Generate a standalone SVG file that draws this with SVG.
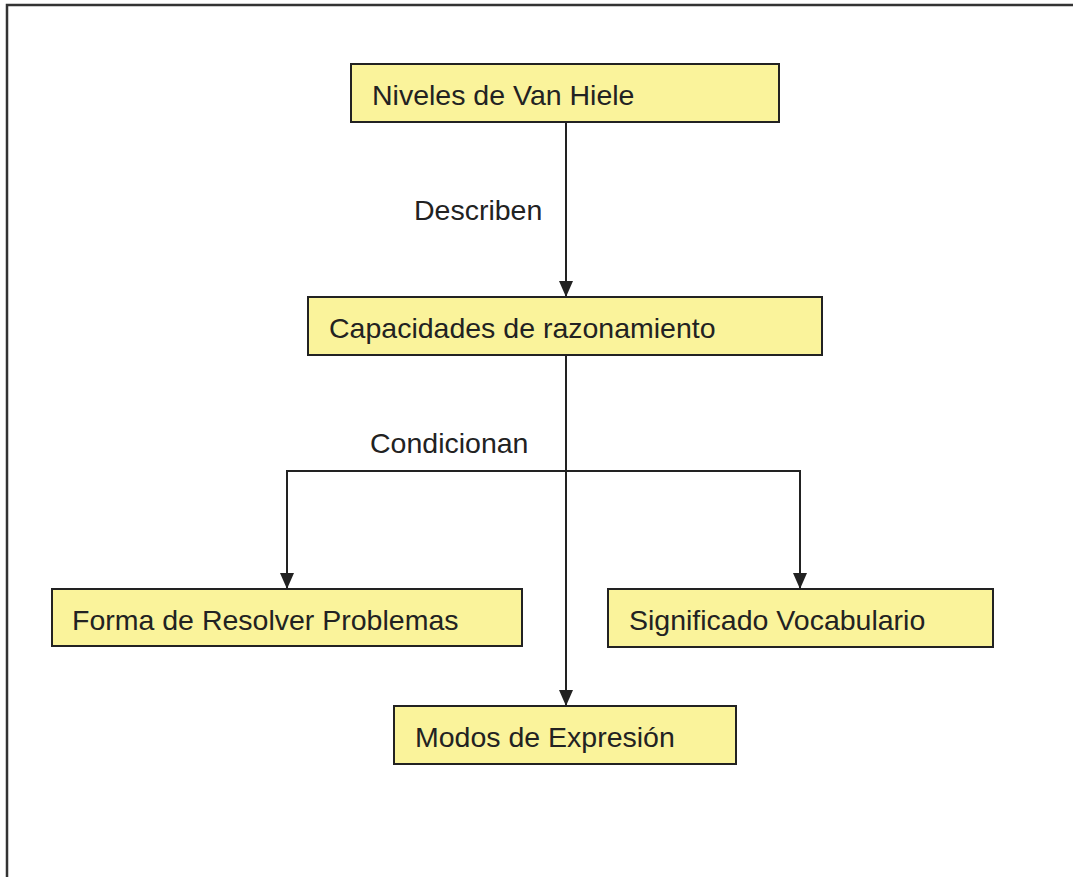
<svg xmlns="http://www.w3.org/2000/svg" width="1073" height="877" viewBox="0 0 1073 877">
  <style>
    .box { fill: #faf39b; stroke: #222; stroke-width: 2; }
    .lbl { font-family: "Liberation Sans", Arial, sans-serif; font-size: 28.5px; fill: #222; }
    .wire { fill: none; stroke: #222; stroke-width: 2; }
    .frame { fill: none; stroke: #333; stroke-width: 2.5; }
  </style>
  <defs>
    <!-- filled arrowhead, tip placed on the end of the line -->
    <marker id="arrow" viewBox="0 0 16 14" refX="16" refY="7" markerWidth="16" markerHeight="14" markerUnits="userSpaceOnUse" orient="auto">
      <path d="M0,0 L16,7 L0,14 Z" fill="#222"/>
    </marker>
  </defs>

  <rect width="1073" height="877" fill="#fff"/>
  <!-- page frame (open to the right and bottom) -->
  <path class="frame" d="M7,877 L7,5 L1073,5"/>

  <g id="connectors">
    <line class="wire" x1="566" y1="122" x2="566" y2="297" marker-end="url(#arrow)"/>
    <line class="wire" x1="566" y1="355" x2="566" y2="706" marker-end="url(#arrow)"/>
    <line class="wire" x1="287" y1="471" x2="800" y2="471"/>
    <line class="wire" x1="287" y1="470" x2="287" y2="589" marker-end="url(#arrow)"/>
    <line class="wire" x1="800" y1="470" x2="800" y2="589" marker-end="url(#arrow)"/>
    <text class="lbl" x="414" y="220">Describen</text>
    <text class="lbl" x="370" y="453">Condicionan</text>
  </g>

  <g id="niveles">
    <rect class="box" x="351" y="64" width="428" height="58"/>
    <text class="lbl" x="372" y="105">Niveles de Van Hiele</text>
  </g>
  <g id="capacidades">
    <rect class="box" x="308" y="297" width="514" height="58"/>
    <text class="lbl" x="329" y="338">Capacidades de razonamiento</text>
  </g>
  <g id="forma">
    <rect class="box" x="52" y="589" width="470" height="57"/>
    <text class="lbl" x="72" y="630">Forma de Resolver Problemas</text>
  </g>
  <g id="significado">
    <rect class="box" x="608" y="589" width="385" height="58"/>
    <text class="lbl" x="629" y="630">Significado Vocabulario</text>
  </g>
  <g id="modos">
    <rect class="box" x="394" y="706" width="342" height="58"/>
    <text class="lbl" x="415" y="747">Modos de Expresión</text>
  </g>
</svg>
